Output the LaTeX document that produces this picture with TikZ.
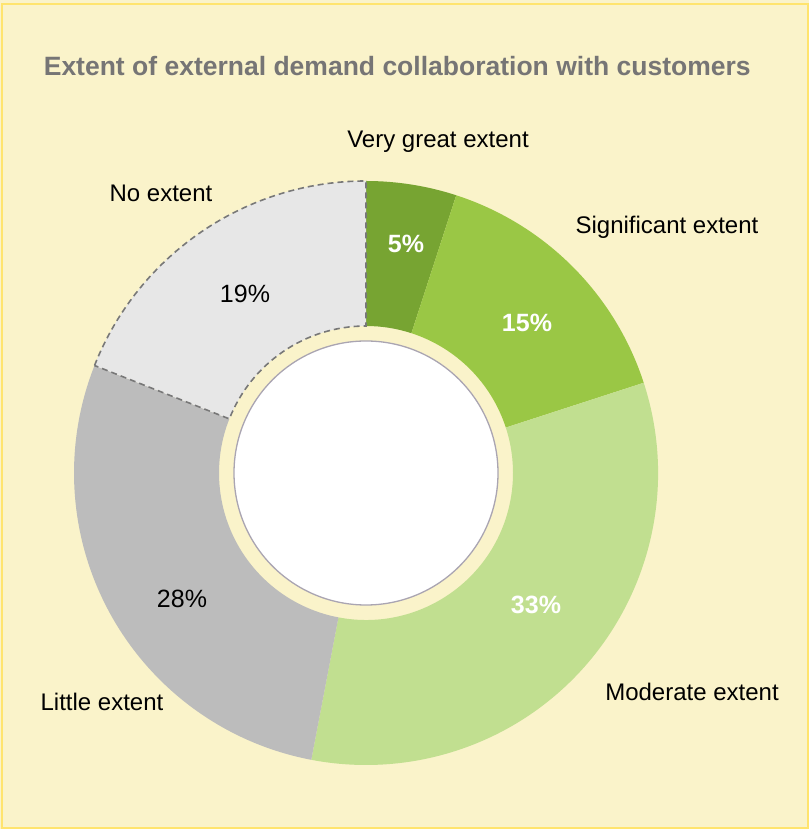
\documentclass[tikz,border=0pt]{standalone}
\usepackage{fontspec}
\setmainfont{Liberation Sans}
\usepackage{tikz}
\usetikzlibrary{calc}
\definecolor{bgyellow}{RGB}{250,243,202}
\definecolor{rimyellow}{RGB}{255,228,110}
\definecolor{titlegray}{RGB}{118,117,117}
\definecolor{vgreat}{RGB}{119,164,50}
\definecolor{signif}{RGB}{154,199,69}
\definecolor{moder}{RGB}{193,223,144}
\definecolor{little}{RGB}{188,188,188}
\definecolor{noext}{RGB}{231,231,231}
\definecolor{dashgray}{RGB}{120,120,120}
\definecolor{holegray}{RGB}{170,165,178}
\tikzset{
    charttitle/.style={font=\bfseries\fontsize{26.5}{30}\selectfont, text=titlegray, anchor=west},
    catlabel/.style={font=\fontsize{24}{28}\selectfont, text=black},
    pctwhite/.style={font=\bfseries\fontsize{25}{30}\selectfont, text=white},
    pctblack/.style={font=\fontsize{25}{30}\selectfont, text=black},
    dashedrim/.style={draw=dashgray, dash pattern=on 6pt off 4pt, line width=1.6pt},
}

\begin{document}
\begin{tikzpicture}[x=1pt, y=1pt, line width=1 pt]
\useasboundingbox (0,0) rectangle (809,829);
\fill[bgyellow] (0,0) rectangle (809,829);
\draw[rimyellow, line width=2pt] (1.5,1) rectangle (808,825);

\coordinate (c) at (366,356);

% ring segments, clockwise from the top
\fill[vgreat] ($(c)+(90:292pt)$) arc[start angle=90, end angle=72, radius=292pt]
    -- ($(c)+(72:147pt)$) arc[start angle=72, end angle=90, radius=147pt] -- cycle;
\fill[signif] ($(c)+(72:292pt)$) arc[start angle=72, end angle=18, radius=292pt]
    -- ($(c)+(18:147pt)$) arc[start angle=18, end angle=72, radius=147pt] -- cycle;
\fill[moder] ($(c)+(18:292pt)$) arc[start angle=18, end angle=-100.8, radius=292pt]
    -- ($(c)+(-100.8:147pt)$) arc[start angle=-100.8, end angle=18, radius=147pt] -- cycle;
\fill[little] ($(c)+(-100.8:292pt)$) arc[start angle=-100.8, end angle=-201.6, radius=292pt]
    -- ($(c)+(-201.6:147pt)$) arc[start angle=-201.6, end angle=-100.8, radius=147pt] -- cycle;
\filldraw[fill=noext, dashedrim] ($(c)+(158.4:292pt)$) arc[start angle=158.4, end angle=90, radius=292pt]
    -- ($(c)+(90:147pt)$) arc[start angle=90, end angle=158.4, radius=147pt] -- cycle;

% hole
\filldraw[fill=white, draw=holegray, line width=1.3pt] (c) circle[radius=132pt];

\node[charttitle] (title) at (40,763) {Extent of external demand collaboration with customers};

\node[catlabel] (lvgreat) at (438,687) {Very great extent};
\node[catlabel] (lsignif) at (667,602) {Significant extent};
\node[catlabel] (lnoext) at (161,636) {No extent};
\node[catlabel] (llittle) at (102,127) {Little extent};
\node[catlabel] (lmoder) at (692,137) {Moderate extent};

\node[pctwhite] (pvgreat) at (406,585) {5\%};
\node[pctwhite] (psignif) at (527,506) {15\%};
\node[pctwhite] (pmoder) at (536,224) {33\%};
\node[pctblack] (plittle) at (182,230) {28\%};
\node[pctblack] (pnoext) at (245,535) {19\%};
\end{tikzpicture}
\end{document}
